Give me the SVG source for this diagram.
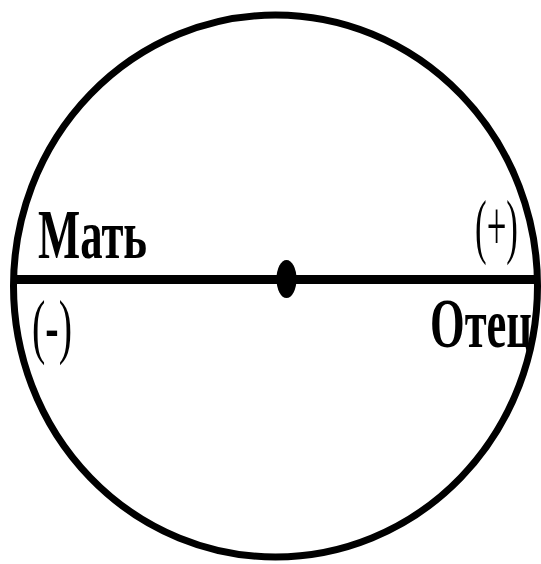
<svg xmlns="http://www.w3.org/2000/svg" width="541" height="564" viewBox="0 0 541 564">
<style>
.b{font-family:"Liberation Serif","Times New Roman",serif;font-weight:bold;font-size:70px;fill:#000}
.r{font-family:"Liberation Serif","Times New Roman",serif;font-size:72px;fill:#000}
</style>
<rect width="541" height="564" fill="#fff"/>
<g id="circle"><ellipse cx="275.5" cy="286" rx="262" ry="271" fill="none" stroke="#000" stroke-width="7"/></g>
<g id="connectors"><line x1="12" y1="279.5" x2="536" y2="279.5" stroke="#000" stroke-width="9"/></g>
<g id="center"><ellipse cx="286.5" cy="279" rx="10" ry="19" fill="#000"/></g>
<g id="mother"><text class="b" x="38" y="258" textLength="109" lengthAdjust="spacingAndGlyphs">Мать</text>
<text class="r" x="32" y="350" textLength="40" lengthAdjust="spacingAndGlyphs">(-)</text></g>
<g id="father"><text class="r" x="475" y="250" textLength="43" lengthAdjust="spacingAndGlyphs">(+)</text>
<text class="b" x="430" y="347" textLength="102" lengthAdjust="spacingAndGlyphs">Отец</text></g>
</svg>
